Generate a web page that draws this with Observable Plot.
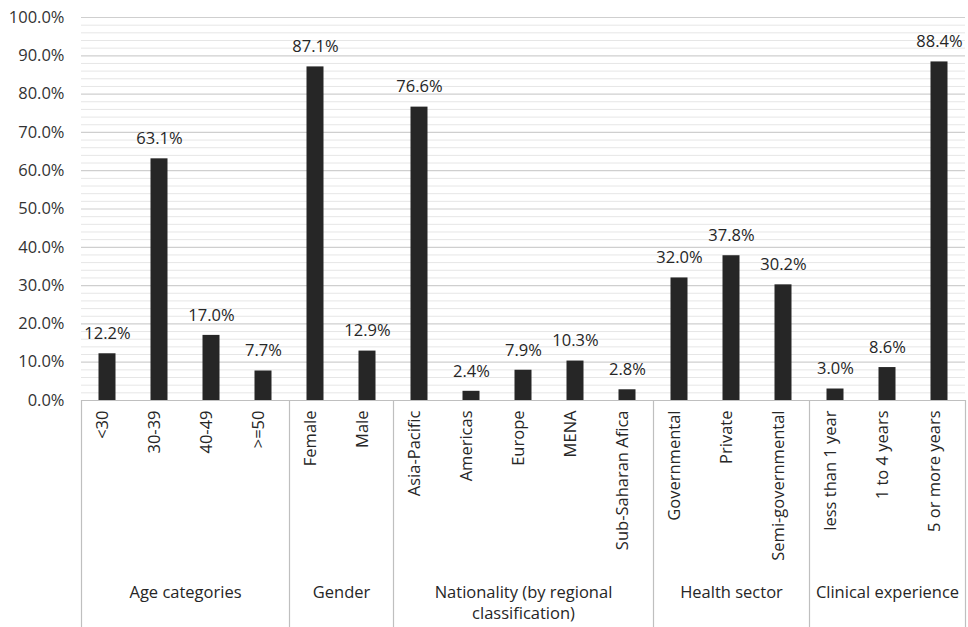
<!DOCTYPE html>
<html><head><meta charset="utf-8">
<script src="https://cdn.jsdelivr.net/npm/d3@7"></script>
<script src="https://cdn.jsdelivr.net/npm/@observablehq/plot@0.6"></script>
<style>body{margin:0;background:#fff}</style>
</head><body><div id="chart"></div>
<script>
const categories = ["<30","30-39","40-49",">=50","Female","Male","Asia-Pacific","Americas","Europe","MENA","Sub-Saharan Afica","Governmental","Private","Semi-governmental","less than 1 year","1 to 4 years","5 or more years"];
const values = [12.2,63.1,17.0,7.7,87.1,12.9,76.6,2.4,7.9,10.3,2.8,32.0,37.8,30.2,3.0,8.6,88.4];
const groupNames = ["Age categories","Gender","Nationality (by regional\nclassification)","Health sector","Clinical experience"];
const groupSizes = [4,2,5,3,3];
const yTicks = [0,10,20,30,40,50,60,70,80,90,100];
const minorTicks = [2,4,6,8,12,14,16,18,22,24,26,28,32,34,36,38,42,44,46,48,52,54,56,58,62,64,66,68,72,74,76,78,82,84,86,88,92,94,96,98];

const rows = categories.map((c, i) => ({cat: c, i, value: values[i]}));
let acc = 0;
const groups = groupNames.map((g, k) => { const s = acc; acc += groupSizes[k]; return {name: g, start: s, end: acc, mid: (s + acc) / 2}; });
const bounds = [0, ...groups.map(g => g.end)];

const chart = Plot.plot({
  width: 968, height: 627,
  marginLeft: 81, marginRight: 3, marginTop: 17, marginBottom: 227,
  style: {fontFamily: "'Open Sans', sans-serif", fontSize: "16.5px", color: "#333", background: "#fff"},
  x: {type: "linear", domain: [0, categories.length], axis: null},
  y: {domain: [0, 100], ticks: yTicks, tickFormat: d => d.toFixed(1) + "%", tickSize: 0, tickPadding: 17, label: null},
  marks: [
    Plot.ruleY(minorTicks, {stroke: "#e6e6e6", strokeWidth: 1}),
    Plot.ruleY(yTicks.filter(d => d > 0), {stroke: "#cfcfcf", strokeWidth: 1.2}),
    Plot.ruleY([0], {stroke: "#bfbfbf", strokeWidth: 1.2}),
    Plot.ruleX(bounds, {x: d => d, stroke: "#bfbfbf", strokeWidth: 1.2, insetTop: 383, insetBottom: -227}),
    Plot.rectY(rows, {x1: d => d.i, x2: d => d.i + 1, y: "value", fill: "#262626", insetLeft: 17.5, insetRight: 17.5}),
    Plot.text(rows, {x: d => d.i + 0.5, y: "value", text: d => d.value.toFixed(1) + "%", dy: -20, fill: "#262626", fontSize: 16.5}),
    Plot.text(rows, {x: d => d.i + 0.5, text: "cat", frameAnchor: "bottom", rotate: -90, textAnchor: "end", dy: 10, fill: "#262626", fontSize: 16.5}),
    Plot.text(groups, {x: "mid", text: "name", frameAnchor: "bottom", lineAnchor: "top", dy: 182, lineHeight: 1.28, fill: "#262626", fontSize: 16.5})
  ]
});
document.getElementById("chart").appendChild(chart);
</script>
</body></html>
